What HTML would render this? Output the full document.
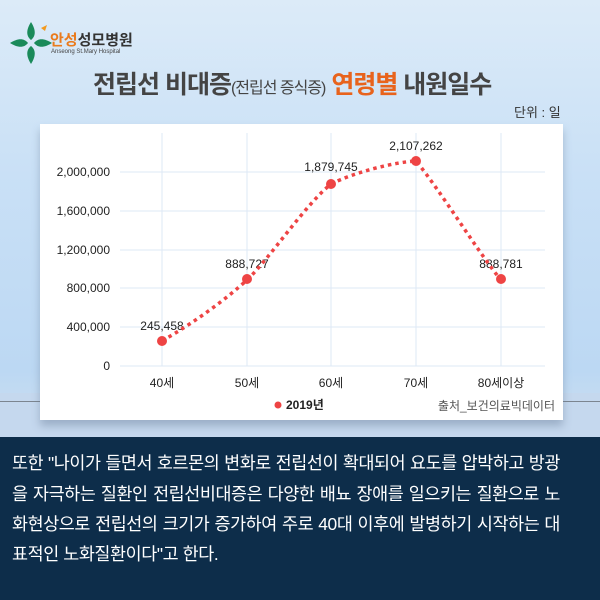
<!DOCTYPE html>
<html><head><meta charset="utf-8"><style>
body{margin:0;width:600px;height:600px;overflow:hidden;font-family:"Liberation Sans","Noto Sans CJK KR",sans-serif;}
#bg{position:absolute;left:0;top:0;width:600px;height:437px;background:linear-gradient(180deg,#dcebf8 0%,#c9e0f6 40%,#bcd8f3 85%,#cfe0f0 100%);}
#navy{position:absolute;left:0;top:437px;width:600px;height:163px;background:#0d2d4a;}
.t{position:absolute;white-space:nowrap;}
.ln{position:absolute;left:12px;width:548px;white-space:nowrap;font-size:17.4px;color:#fff;letter-spacing:-0.4px;}
.j{text-align:justify;text-align-last:justify;}
</style></head><body>
<div id="bg"></div>
<div style="position:absolute;left:0;top:393px;width:600px;height:44px;background:#c5d8ee"></div>
<div style="position:absolute;left:0;top:401px;width:600px;height:1px;background:#7c8590"></div>
<div id="navy"></div>
<svg class="t" style="left:8px;top:20px" width="46" height="46" viewBox="0 0 46 46">
<path d="M23 2 C18 10 18 16 23 20 C28 16 28 10 23 2Z" fill="#1a8a5a"/>
<path d="M23 44 C18 36 18 30 23 26 C28 30 28 36 23 44Z" fill="#1a8a5a"/>
<path d="M2 23 C10 18 16 18 20 23 C16 28 10 28 2 23Z" fill="#1a8a5a"/>
<path d="M44 23 C36 18 30 18 26 23 C30 28 36 28 44 23Z" fill="#1a8a5a"/>
<path d="M33 8 l6 -3 l-2 6z" fill="#f39a1e"/>
</svg>
<div class="t" style="left:50px;top:29px;font-size:15px;font-weight:bold;color:#333"><span style="color:#ea7b1d">안성</span>성모병원</div>
<div class="t" style="left:51px;top:49px;font-size:6px;color:#444">Anseong St.Mary Hospital</div>
<div class="t" style="left:93px;top:65px;font-size:25px;font-weight:bold;color:#444;letter-spacing:-1px">전립선 비대증<span style="font-size:16px;font-weight:normal">(전립선 증식증)</span> <span style="color:#e8631c">연령별</span> 내원일수</div>
<div class="t" style="left:514px;top:102px;font-size:13px;color:#333">단위 : 일</div>
<div style="position:absolute;left:40px;top:124px;width:523px;height:296px;background:#fff;box-shadow:0 6px 8px rgba(80,100,130,0.35)"></div>
<svg class="t" style="left:0;top:0" width="600" height="440">
<g stroke="#dde9f5" stroke-width="1">
<line x1="120" y1="366" x2="545" y2="366"/><line x1="120" y1="327" x2="545" y2="327"/><line x1="120" y1="288" x2="545" y2="288"/><line x1="120" y1="250" x2="545" y2="250"/><line x1="120" y1="211" x2="545" y2="211"/><line x1="120" y1="172" x2="545" y2="172"/>
<line x1="162" y1="133" x2="162" y2="366"/><line x1="247" y1="133" x2="247" y2="366"/><line x1="331" y1="133" x2="331" y2="366"/><line x1="416" y1="133" x2="416" y2="366"/><line x1="501" y1="133" x2="501" y2="366"/>
</g>
<g font-size="12" fill="#222" text-anchor="end" font-family="Liberation Sans,sans-serif">
<text x="110" y="370">0</text><text x="110" y="331">400,000</text><text x="110" y="292">800,000</text><text x="110" y="254">1,200,000</text><text x="110" y="215">1,600,000</text><text x="110" y="176">2,000,000</text>
</g>
<g font-size="12" fill="#222" text-anchor="middle" font-family="Liberation Sans,Noto Sans CJK KR,sans-serif">
<text x="162" y="387">40세</text><text x="247" y="387">50세</text><text x="331" y="387">60세</text><text x="416" y="387">70세</text><text x="501" y="387">80세이상</text>
<text x="162" y="330">245,458</text><text x="247" y="268">888,727</text><text x="331" y="171">1,879,745</text><text x="416" y="150">2,107,262</text><text x="501" y="268">888,781</text>
</g>
<path d="M162 341 C195 322 225 300 247 280 C270 258 305 205 331 184 C355 172 395 162 416 161 C440 190 480 255 501 280" fill="none" stroke="#ee4444" stroke-width="3.5" stroke-dasharray="3.5 4"/>
<g fill="#ee4444"><circle cx="162" cy="341" r="5"/><circle cx="247" cy="279" r="5"/><circle cx="331" cy="184" r="5"/><circle cx="416" cy="161" r="5"/><circle cx="501" cy="279" r="5"/>
<circle cx="278" cy="405" r="3.5"/></g>
<text x="286" y="409" font-size="12" font-weight="bold" fill="#222" font-family="Liberation Sans,Noto Sans CJK KR,sans-serif">2019년</text>
<text x="555" y="410" font-size="12" fill="#555" text-anchor="end" font-family="Liberation Sans,Noto Sans CJK KR,sans-serif">출처_보건의료빅데이터</text>
</svg>
<div class="ln j" style="top:450px">또한 "나이가 들면서 호르몬의 변화로 전립선이 확대되어 요도를 압박하고 방광</div>
<div class="ln j" style="top:481px">을 자극하는 질환인 전립선비대증은 다양한 배뇨 장애를 일으키는 질환으로 노</div>
<div class="ln j" style="top:511px">화현상으로 전립선의 크기가 증가하여 주로 40대 이후에 발병하기 시작하는 대</div>
<div class="ln" style="top:541px">표적인 노화질환이다"고 한다.</div>
</body></html>
